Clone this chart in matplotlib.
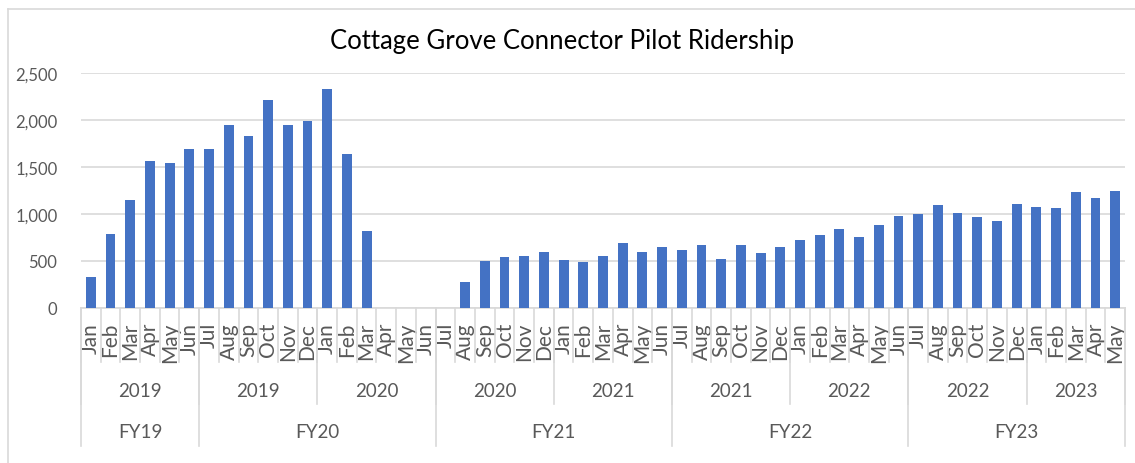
import matplotlib
matplotlib.use('Agg')
import matplotlib.pyplot as plt
from matplotlib.lines import Line2D
from matplotlib.transforms import blended_transform_factory
from matplotlib.ticker import FuncFormatter

plt.rcParams['font.family'] = ['Lato', 'DejaVu Sans']

# data, Jan 2019 .. May 2023
months = ['Jan', 'Feb', 'Mar', 'Apr', 'May', 'Jun',
          'Jul', 'Aug', 'Sep', 'Oct', 'Nov', 'Dec',
          'Jan', 'Feb', 'Mar', 'Apr', 'May', 'Jun',
          'Jul', 'Aug', 'Sep', 'Oct', 'Nov', 'Dec',
          'Jan', 'Feb', 'Mar', 'Apr', 'May', 'Jun',
          'Jul', 'Aug', 'Sep', 'Oct', 'Nov', 'Dec',
          'Jan', 'Feb', 'Mar', 'Apr', 'May', 'Jun',
          'Jul', 'Aug', 'Sep', 'Oct', 'Nov', 'Dec',
          'Jan', 'Feb', 'Mar', 'Apr', 'May']
ridership = [330, 790, 1150, 1565, 1545, 1690,
             1690, 1945, 1825, 2215, 1945, 1985,
             2335, 1640, 815, 0, 0, 0,
             0, 275, 495, 545, 555, 600,
             515, 485, 555, 695, 600, 645,
             620, 665, 525, 675, 590, 645,
             720, 775, 840, 755, 878, 980,
             998, 1097, 1015, 970, 923, 1108,
             1070, 1062, 1230, 1172, 1248]
year_labels = ['2019', '2019', '2020', '2020', '2021', '2021', '2022', '2022', '2023']
year_spans = [6, 6, 6, 6, 6, 6, 6, 6, 5]
fy_labels = ['FY19', 'FY20', 'FY21', 'FY22', 'FY23']
fy_spans = [6, 12, 12, 12, 11]

W, H = 1135, 464
fig = plt.figure(figsize=(W / 100, H / 100), dpi=100)
ax = fig.add_axes([81 / W, 1 - 309 / H, (1125 - 81) / W, (309 - 74) / H])

grid_c = '#d9d9d9'
text_c = '#595959'

x = list(range(len(ridership)))
ax.bar(x, ridership, width=0.5, color='#4472C4', zorder=3)
ax.set_xlim(-0.5, len(ridership) - 0.5)
ax.set_ylim(0, 2500)
ax.set_yticks(range(0, 2501, 500))
ax.yaxis.set_major_formatter(FuncFormatter(lambda v, p: f'{int(v):,}'))
ax.grid(axis='y', color=grid_c, linewidth=1.2, zorder=0)
for s in ['top', 'right', 'left']:
    ax.spines[s].set_visible(False)
ax.spines['bottom'].set_color(grid_c)
ax.spines['bottom'].set_linewidth(1.2)
ax.tick_params(axis='y', length=0, pad=17, labelsize=12, labelcolor=text_c)
ax.set_xticks(x)
ax.set_xticklabels(months, rotation=90, va='top', ha='center')
ax.tick_params(axis='x', length=0, pad=10, labelsize=15, labelcolor=text_c)

fig.text(562 / W, 1 - 42 / H, 'Cottage Grove Connector Pilot Ridership',
         ha='center', va='center', fontsize=18.5, color='#000000')

# multi-level category axis
tr = blended_transform_factory(ax.transData, fig.transFigure)


def vline(xpos, y_bottom):
    ax.add_line(Line2D([xpos, xpos], [1 - 309 / H, 1 - y_bottom / H],
                       transform=tr, color=grid_c, linewidth=1.2, clip_on=False))


for i in range(len(ridership) + 1):
    vline(i - 0.5, 363)

start = 0
for lab, n in zip(year_labels, year_spans):
    vline(start - 0.5, 405)
    fig.text(start + (n - 1) / 2, 1 - 392 / H, lab, transform=tr,
             ha='center', va='center', fontsize=13.5, color=text_c)
    start += n
vline(start - 0.5, 405)

start = 0
for lab, n in zip(fy_labels, fy_spans):
    vline(start - 0.5, 447)
    fig.text(start + (n - 1) / 2, 1 - 433 / H, lab, transform=tr,
             ha='center', va='center', fontsize=13.5, color=text_c)
    start += n
vline(start - 0.5, 447)

# chart area border
fig.add_artist(Line2D([7.5 / W, 7.5 / W], [0, 1 - 9.5 / H], color=grid_c,
                      linewidth=1.2, transform=fig.transFigure))
fig.add_artist(Line2D([7.5 / W, 1], [1 - 9.5 / H, 1 - 9.5 / H], color=grid_c,
                      linewidth=1.2, transform=fig.transFigure))

fig.savefig('out.png', dpi=100)
plt.close(fig)
